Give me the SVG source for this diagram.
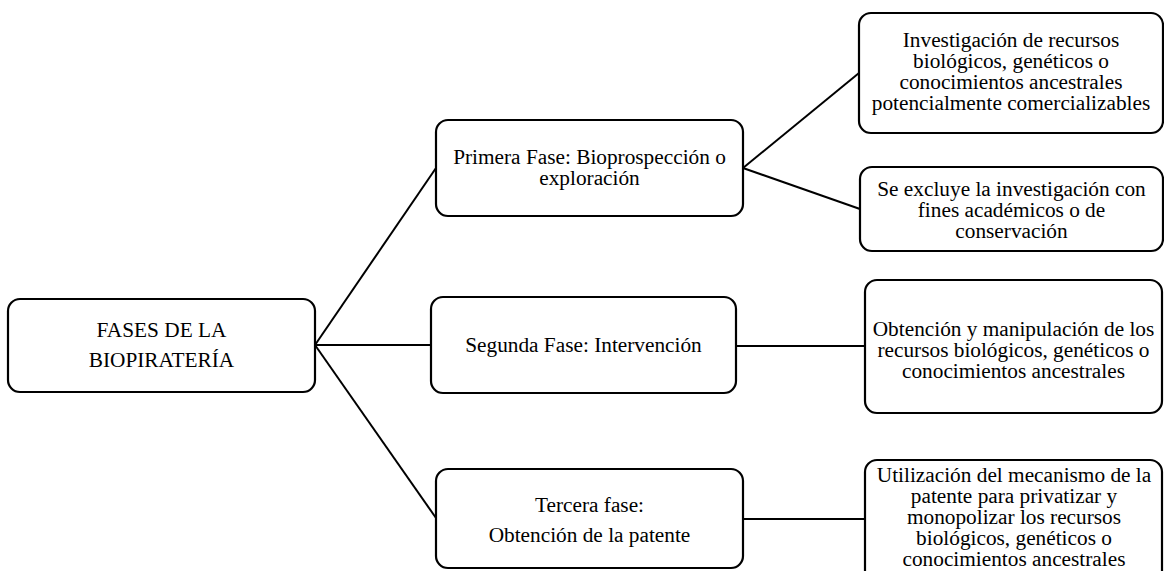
<svg xmlns="http://www.w3.org/2000/svg" width="1164" height="571" viewBox="0 0 1164 571">
<style>
.box{fill:#fff;stroke:#000;stroke-width:2.2}
.t{font-family:"Liberation Serif","Times New Roman",serif;font-size:21.3px;fill:#000;text-anchor:middle}
.c{stroke:#000;stroke-width:2;fill:none}
</style>
<rect width="1164" height="571" fill="#fff"/>
<g id="connectors">
<line class="c" x1="315" y1="345" x2="436" y2="168"/>
<line class="c" x1="315" y1="345" x2="431" y2="345"/>
<line class="c" x1="315" y1="345" x2="436" y2="518"/>
<line class="c" x1="743" y1="168" x2="859" y2="73"/>
<line class="c" x1="743" y1="168" x2="860" y2="209"/>
<line class="c" x1="736" y1="346" x2="865" y2="346"/>
<line class="c" x1="743" y1="519" x2="865" y2="519"/>
</g>
<g id="n-fases">
<rect class="box" x="8" y="299" width="307" height="93" rx="12"/>
<text class="t" x="161.5" y="337">FASES DE LA</text>
<text class="t" x="161.5" y="367">BIOPIRATERÍA</text>
</g>
<g id="n-primera">
<rect class="box" x="436" y="120" width="307" height="96" rx="12"/>
<text class="t" x="589.5" y="164">Primera Fase: Bioprospección o</text>
<text class="t" x="589.5" y="185">exploración</text>
</g>
<g id="n-segunda">
<rect class="box" x="431" y="297" width="305" height="96" rx="12"/>
<text class="t" x="583.5" y="352">Segunda Fase: Intervención</text>
</g>
<g id="n-tercera">
<rect class="box" x="436" y="469" width="307" height="99" rx="12"/>
<text class="t" x="589.5" y="512">Tercera fase:</text>
<text class="t" x="589.5" y="542">Obtención de la patente</text>
</g>
<g id="n-investigacion">
<rect class="box" x="859" y="13" width="304" height="120" rx="12"/>
<text class="t" x="1011" y="47">Investigación de recursos</text>
<text class="t" x="1011" y="68">biológicos, genéticos o</text>
<text class="t" x="1011" y="89">conocimientos ancestrales</text>
<text class="t" x="1011" y="110">potencialmente comercializables</text>
</g>
<g id="n-excluye">
<rect class="box" x="860" y="167" width="303" height="84" rx="12"/>
<text class="t" x="1011.5" y="196">Se excluye la investigación con</text>
<text class="t" x="1011.5" y="217">fines académicos o de</text>
<text class="t" x="1011.5" y="238">conservación</text>
</g>
<g id="n-obtencion">
<rect class="box" x="865" y="280" width="297" height="133" rx="12"/>
<text class="t" x="1013.5" y="336">Obtención y manipulación de los</text>
<text class="t" x="1013.5" y="357">recursos biológicos, genéticos o</text>
<text class="t" x="1013.5" y="378">conocimientos ancestrales</text>
</g>
<g id="n-utilizacion">
<rect class="box" x="865" y="460" width="297" height="140" rx="12"/>
<text class="t" x="1014" y="482">Utilización del mecanismo de la</text>
<text class="t" x="1014" y="503">patente para privatizar y</text>
<text class="t" x="1014" y="524">monopolizar los recursos</text>
<text class="t" x="1014" y="545">biológicos, genéticos o</text>
<text class="t" x="1014" y="566">conocimientos ancestrales</text>
</g>
</svg>
